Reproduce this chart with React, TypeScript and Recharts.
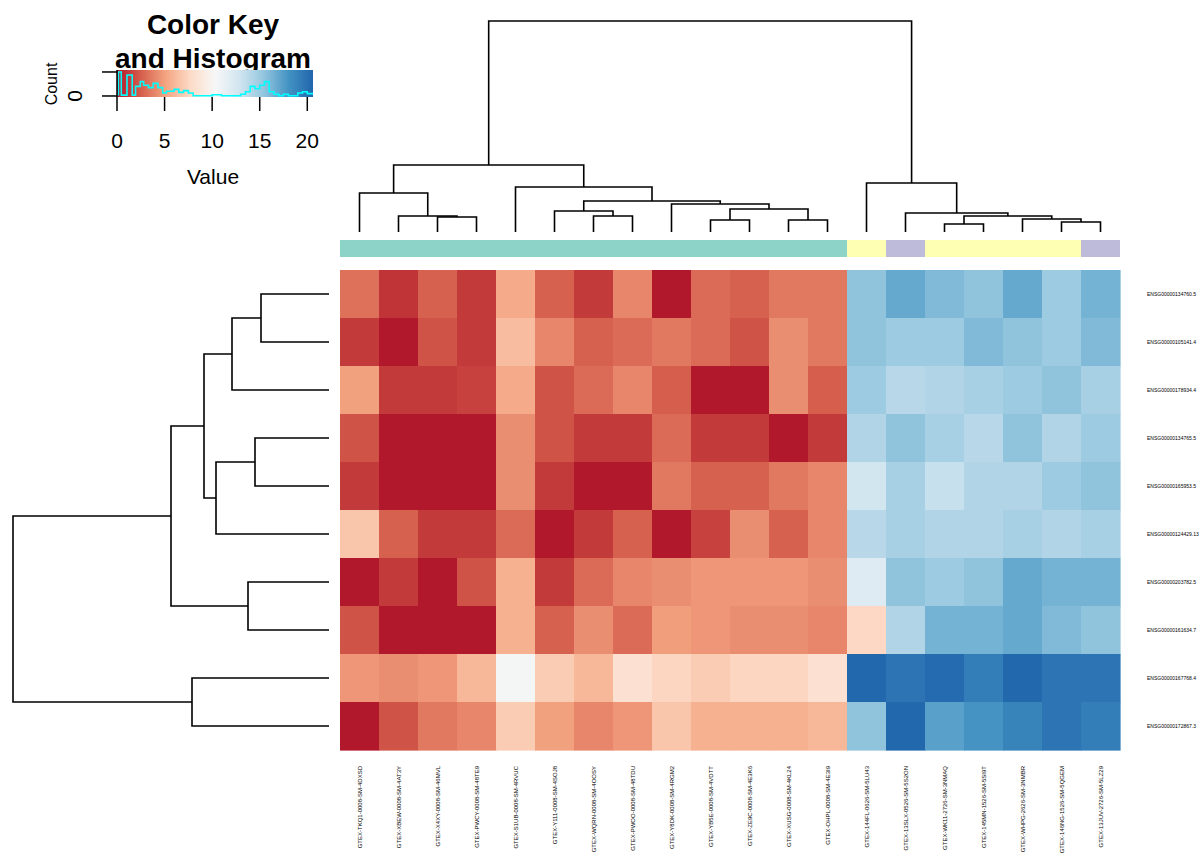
import {
  ScatterChart,
  Scatter,
  XAxis,
  YAxis,
  ComposedChart,
  Line,
  BarChart,
  Bar,
  Cell,
  ReferenceArea,
} from 'recharts';

const FONT = '"Liberation Sans", Arial, Helvetica, sans-serif';

// samples, in dendrogram order
const sampleNames = [
  'GTEX-TKQ1-0008-SM-4DXSD',
  'GTEX-XBEW-0008-SM-4AT3Y',
  'GTEX-X4XY-0008-SM-46MVL',
  'GTEX-PWCY-0008-SM-48TE9',
  'GTEX-S1UB-0008-SM-4RVUC',
  'GTEX-Y111-0008-SM-4SOJ8',
  'GTEX-WQRN-0008-SM-4OOSY',
  'GTEX-PWOO-0008-SM-48TDU',
  'GTEX-Y8DK-0008-SM-4RGM2',
  'GTEX-YB5E-0008-SM-4VDTT',
  'GTEX-ZE9C-0008-SM-4E3K6',
  'GTEX-XUSG-0008-SM-4KL24',
  'GTEX-OHPL-0008-SM-4E3I9',
  'GTEX-144FL-0626-SM-5LU43',
  'GTEX-13SLX-0526-SM-5S2ON',
  'GTEX-WK11-2726-SM-3NMAQ',
  'GTEX-145MN-1526-SM-5SI9T',
  'GTEX-WHPG-2626-SM-3NMBR',
  'GTEX-146NG-1526-SM-5QGEM',
  'GTEX-13JUV-2726-SM-5LZ29',
];

const sampleGroup = [
  'a', 'a', 'a', 'a', 'a', 'a', 'a', 'a', 'a', 'a', 'a', 'a', 'a',
  'b', 'c', 'b', 'b', 'b', 'b', 'c',
];

const groupColors: Record<string, string> = { a: '#8DD3C7', b: '#FFFFB3', c: '#BEBADA' };

const geneNames = [
  'ENSG00000134760.5',
  'ENSG00000105141.4',
  'ENSG00000178934.4',
  'ENSG00000134765.5',
  'ENSG00000165953.5',
  'ENSG00000124429.13',
  'ENSG00000203782.5',
  'ENSG00000161634.7',
  'ENSG00000167768.4',
  'ENSG00000172867.3',
];

// one row per gene, one value per sample
const expr = [
  [3.2, 1.0, 2.6, 1.2, 5.4, 2.6, 1.2, 4.0, 0, 3.0, 2.6, 3.5, 3.5, 15.5, 16.9, 16.0, 15.5, 16.9, 15.0, 16.4],
  [1.2, 0, 2.1, 1.2, 6.3, 4.0, 2.6, 3.0, 3.5, 3.0, 2.1, 4.3, 3.5, 15.5, 15.0, 15.0, 16.0, 15.5, 15.0, 16.0],
  [5.0, 1.2, 1.2, 1.5, 5.4, 2.1, 3.0, 4.0, 2.5, 0, 0, 4.3, 2.5, 15.0, 13.9, 14.2, 14.6, 15.0, 15.5, 14.6],
  [2.1, 0, 0, 0, 4.3, 2.1, 1.2, 1.2, 3.0, 1.2, 1.2, 0, 1.2, 14.2, 15.5, 14.6, 13.9, 15.5, 14.2, 15.0],
  [1.2, 0, 0, 0, 4.3, 1.2, 0, 0, 3.5, 2.6, 2.6, 3.5, 4.0, 12.8, 14.6, 13.3, 14.2, 14.2, 15.0, 15.5],
  [6.7, 2.6, 1.2, 1.2, 3.0, 0, 1.2, 2.6, 0, 1.5, 4.3, 2.6, 4.0, 13.9, 14.6, 14.2, 14.2, 14.6, 14.2, 14.6],
  [0, 1.2, 0, 2.1, 5.7, 1.2, 3.0, 4.0, 4.3, 4.6, 4.6, 4.6, 4.3, 12.0, 15.5, 15.0, 15.5, 16.9, 16.4, 16.4],
  [2.1, 0, 0, 0, 5.7, 2.6, 4.3, 3.0, 4.9, 4.6, 4.3, 4.3, 4.0, 7.6, 14.2, 16.4, 16.4, 16.9, 16.0, 15.5],
  [4.6, 4.3, 4.6, 6.0, 10.5, 7.0, 6.0, 8.3, 7.5, 7.0, 7.5, 7.5, 8.3, 20.5, 19.8, 20.3, 19.2, 20.5, 19.8, 19.8],
  [0, 2.1, 3.5, 4.0, 7.0, 5.0, 4.0, 4.6, 6.7, 5.7, 5.7, 5.7, 6.0, 15.5, 20.5, 17.3, 18.0, 18.9, 19.8, 19.2],
];

// hclust-style merges: negative = leaf (1-based, display order), positive = earlier merge
const colMerge = [
  [-3, -4], [-2, 1], [-1, 2], [-7, -8], [-6, 4], [-10, -11], [-12, -13], [6, 7], [-9, 8],
  [5, 9], [-5, 10], [3, 11], [-16, -17], [-19, -20], [-18, 14], [13, 15], [-15, 16], [-14, 17], [12, 18],
];
const colHeight = [1.5, 1.6, 3.9, 1.6, 2.1, 1.2, 1.2, 2.3, 2.8, 3.1, 4.5, 6.7, 0.8, 1.0, 1.3, 1.6, 1.9, 4.9, 21.1];

const rowMerge = [[-1, -2], [1, -3], [-4, -5], [3, -6], [2, 4], [-7, -8], [5, 6], [-9, -10], [7, 8]];
const rowHeight = [6.8, 9.7, 7.4, 11.3, 12.5, 8.1, 15.8, 13.7, 31.6];

// colour key histogram (step starts and counts)
const histBreaks = [0, 0.15, 0.45, 1.05, 1.6, 1.95, 2.45, 2.8, 3.3, 3.8, 4.3, 4.8, 5.2, 6.0, 6.5, 7.0, 7.5, 8.0, 10.0, 11.0, 13.0, 13.5, 14.0, 14.5, 15.0, 15.5, 16.0, 16.5, 17.0, 17.5, 18.0, 19.0, 19.5, 20.0, 20.6];
const histCounts = [0.2, 4.0, 0.15, 3.5, 0.15, 1.6, 2.4, 1.8, 1.4, 2.1, 1.4, 0.5, 0.8, 1.1, 0.6, 0.9, 0.5, 0.05, 0.2, 0.05, 0.3, 0.7, 1.6, 1.2, 1.8, 2.4, 0.7, 0.3, 0.05, 0.3, 0.05, 0.5, 0.7, 0.4, 0.4];
const keyTicks = [0, 5, 10, 15, 20];

const rdbu = ['#B2182B', '#D6604D', '#F4A582', '#FDDBC7', '#F7F7F7', '#D1E5F0', '#92C5DE', '#4393C3', '#2166AC'];
const VMAX = 20.6;

function rgb(h: string) {
  return [1, 3, 5].map((i) => parseInt(h.slice(i, i + 2), 16));
}

function colorOf(v: number) {
  const t = Math.max(0, Math.min(1, v / VMAX)) * (rdbu.length - 1);
  const i = Math.min(Math.floor(t), rdbu.length - 2);
  const f = t - i;
  const a = rgb(rdbu[i]);
  const b = rgb(rdbu[i + 1]);
  const c = a.map((x, k) => Math.round(x + (b[k] - x) * f));
  return `rgb(${c[0]},${c[1]},${c[2]})`;
}

function dendro(merge: number[][], height: number[], swap: boolean) {
  const pos: number[] = [];
  const hgt: number[] = [];
  const get = (k: number) => (k < 0 ? [-k - 1, 0] : [pos[k - 1], hgt[k - 1]]);
  return merge.map(([a, b], i) => {
    const [pa, ha] = get(a);
    const [pb, hb] = get(b);
    const h = height[i];
    pos[i] = (pa + pb) / 2;
    hgt[i] = h;
    const pts = [[pa, ha], [pa, h], [pb, h], [pb, hb]];
    return pts.map(([p, q]) => (swap ? { x: q, y: p } : { x: p, y: q }));
  });
}

const cells = expr.flatMap((row, r) => row.map((v, c) => ({ c, r, v })));
const colSegs = dendro(colMerge, colHeight, false);
const rowSegs = dendro(rowMerge, rowHeight, true);
const hist = histBreaks.map((v, i) => ({ v, count: histCounts[i] }));
const sideBar = sampleGroup.map((g, i) => ({ name: sampleNames[i], g, one: 1 }));

const CW = 39;
const CH = 48;

const CellShape = (p: any) => (
  <rect x={p.cx - CW / 2} y={p.cy - CH / 2} width={CW + 0.6} height={CH + 0.6} fill={colorOf(p.payload.v)} />
);

const ColTick = (p: any) => {
  const x = p.x + 2.1;
  const y = 496;
  return (
    <text x={x} y={y} transform={`rotate(-90 ${x} ${y})`} textAnchor="end" fontSize={6} fontFamily={FONT} fill="#000">
      {sampleNames[p.payload.value]}
    </text>
  );
};

const RowTick = (p: any) => (
  <text x={807} y={p.y + 1.8} textAnchor="start" fontSize={5} fontFamily={FONT} fill="#000">
    {geneNames[p.payload.value]}
  </text>
);

const CountTick = (p: any) => {
  if (p.payload.value !== 0) return <g />;
  const x = p.x - 18;
  const y = p.y;
  return (
    <text x={x} y={y} transform={`rotate(-90 ${x} ${y})`} textAnchor="middle" fontSize={21} fontFamily={FONT} fill="#000">
      0
    </text>
  );
};

const abs = (left: number, top: number): React.CSSProperties => ({ position: 'absolute', left, top });

export default function App() {
  return (
    <div style={{ position: 'absolute', left: 0, top: 0, width: 1201, height: 856, background: '#fff', fontFamily: FONT, overflow: 'hidden' }}>
      {/* colour key */}
      <div style={{ ...abs(63, 8), width: 300, textAlign: 'center', fontWeight: 'bold', fontSize: 28, lineHeight: '34px' }}>
        Color Key
        <br />
        and Histogram
      </div>
      <div style={abs(0, 0)}>
        <ComposedChart width={330} height={200} data={hist} margin={{ top: 70, right: 17, left: 0, bottom: 0 }}>
          <defs>
            <linearGradient id="keyGrad" x1="0" y1="0" x2="1" y2="0">
              {rdbu.map((c, i) => (
                <stop key={c} offset={i / (rdbu.length - 1)} stopColor={c} />
              ))}
            </linearGradient>
          </defs>
          <XAxis
            dataKey="v"
            type="number"
            domain={[0, VMAX]}
            ticks={keyTicks}
            height={103}
            axisLine={false}
            tickSize={14}
            tickMargin={22}
            tickLine={{ stroke: '#000', strokeWidth: 1.5 }}
            tick={{ fontSize: 21, fill: '#000', fontFamily: FONT }}
          />
          <YAxis
            type="number"
            domain={[-0.17, 4.33]}
            ticks={[0, 1, 2, 3, 4]}
            width={117}
            tickSize={15}
            axisLine={{ stroke: '#000', strokeWidth: 1.5 }}
            tickLine={{ stroke: '#000', strokeWidth: 1.5 }}
            tick={<CountTick />}
          />
          <ReferenceArea x1={0} x2={VMAX} y1={-0.17} y2={4.33} fill="url(#keyGrad)" fillOpacity={1} stroke="none" />
          <Line type="stepAfter" dataKey="count" stroke="#00FFFF" strokeWidth={1.6} dot={false} isAnimationActive={false} />
        </ComposedChart>
      </div>
      <div style={{ ...abs(40, 72), width: 24, height: 24, display: 'flex', alignItems: 'center', justifyContent: 'center' }}>
        <div style={{ transform: 'rotate(-90deg)', fontSize: 16, whiteSpace: 'nowrap' }}>Count</div>
      </div>
      <div style={{ ...abs(113, 165), width: 200, textAlign: 'center', fontSize: 21 }}>Value</div>

      {/* column dendrogram */}
      <div style={abs(340, 16)}>
        <ComposedChart width={780} height={219} margin={{ top: 5, right: 0, left: 0, bottom: 3 }}>
          <XAxis hide dataKey="x" type="number" domain={[-0.5, 19.5]} />
          <YAxis hide type="number" domain={[0, 21.1]} />
          {colSegs.map((seg, i) => (
            <Line key={i} data={seg} dataKey="y" type="linear" stroke="#000" strokeWidth={1.6} dot={false} isAnimationActive={false} />
          ))}
        </ComposedChart>
      </div>

      {/* side colours */}
      <div style={abs(340, 240)}>
        <BarChart width={780} height={17} data={sideBar} margin={{ top: 0, right: 0, left: 0, bottom: 0 }} barCategoryGap={0}>
          <XAxis hide dataKey="name" />
          <YAxis hide domain={[0, 1]} />
          <Bar dataKey="one" isAnimationActive={false}>
            {sideBar.map((d) => (
              <Cell key={d.name} fill={groupColors[d.g]} />
            ))}
          </Bar>
        </BarChart>
      </div>

      {/* row dendrogram */}
      <div style={abs(0, 270)}>
        <ComposedChart width={334} height={480} margin={{ top: 0, right: 5, left: 13, bottom: 0 }}>
          <XAxis hide dataKey="x" type="number" domain={[0, 31.6]} reversed />
          <YAxis hide type="number" domain={[-0.5, 9.5]} reversed />
          {rowSegs.map((seg, i) => (
            <Line key={i} data={seg} dataKey="y" type="linear" stroke="#000" strokeWidth={1.6} dot={false} isAnimationActive={false} />
          ))}
        </ComposedChart>
      </div>

      {/* heatmap */}
      <div style={abs(340, 270)}>
        <ScatterChart width={861} height={586} margin={{ top: 0, right: 0, left: 0, bottom: 0 }}>
          <XAxis
            dataKey="c"
            type="number"
            domain={[-0.5, 19.5]}
            ticks={sampleNames.map((_, i) => i)}
            height={106}
            axisLine={false}
            tickLine={false}
            interval={0}
            tick={<ColTick />}
          />
          <YAxis
            dataKey="r"
            type="number"
            orientation="right"
            domain={[-0.5, 9.5]}
            reversed
            ticks={geneNames.map((_, i) => i)}
            width={81}
            axisLine={false}
            tickLine={false}
            interval={0}
            tick={<RowTick />}
          />
          <Scatter data={cells} shape={<CellShape />} isAnimationActive={false} />
        </ScatterChart>
      </div>
    </div>
  );
}
